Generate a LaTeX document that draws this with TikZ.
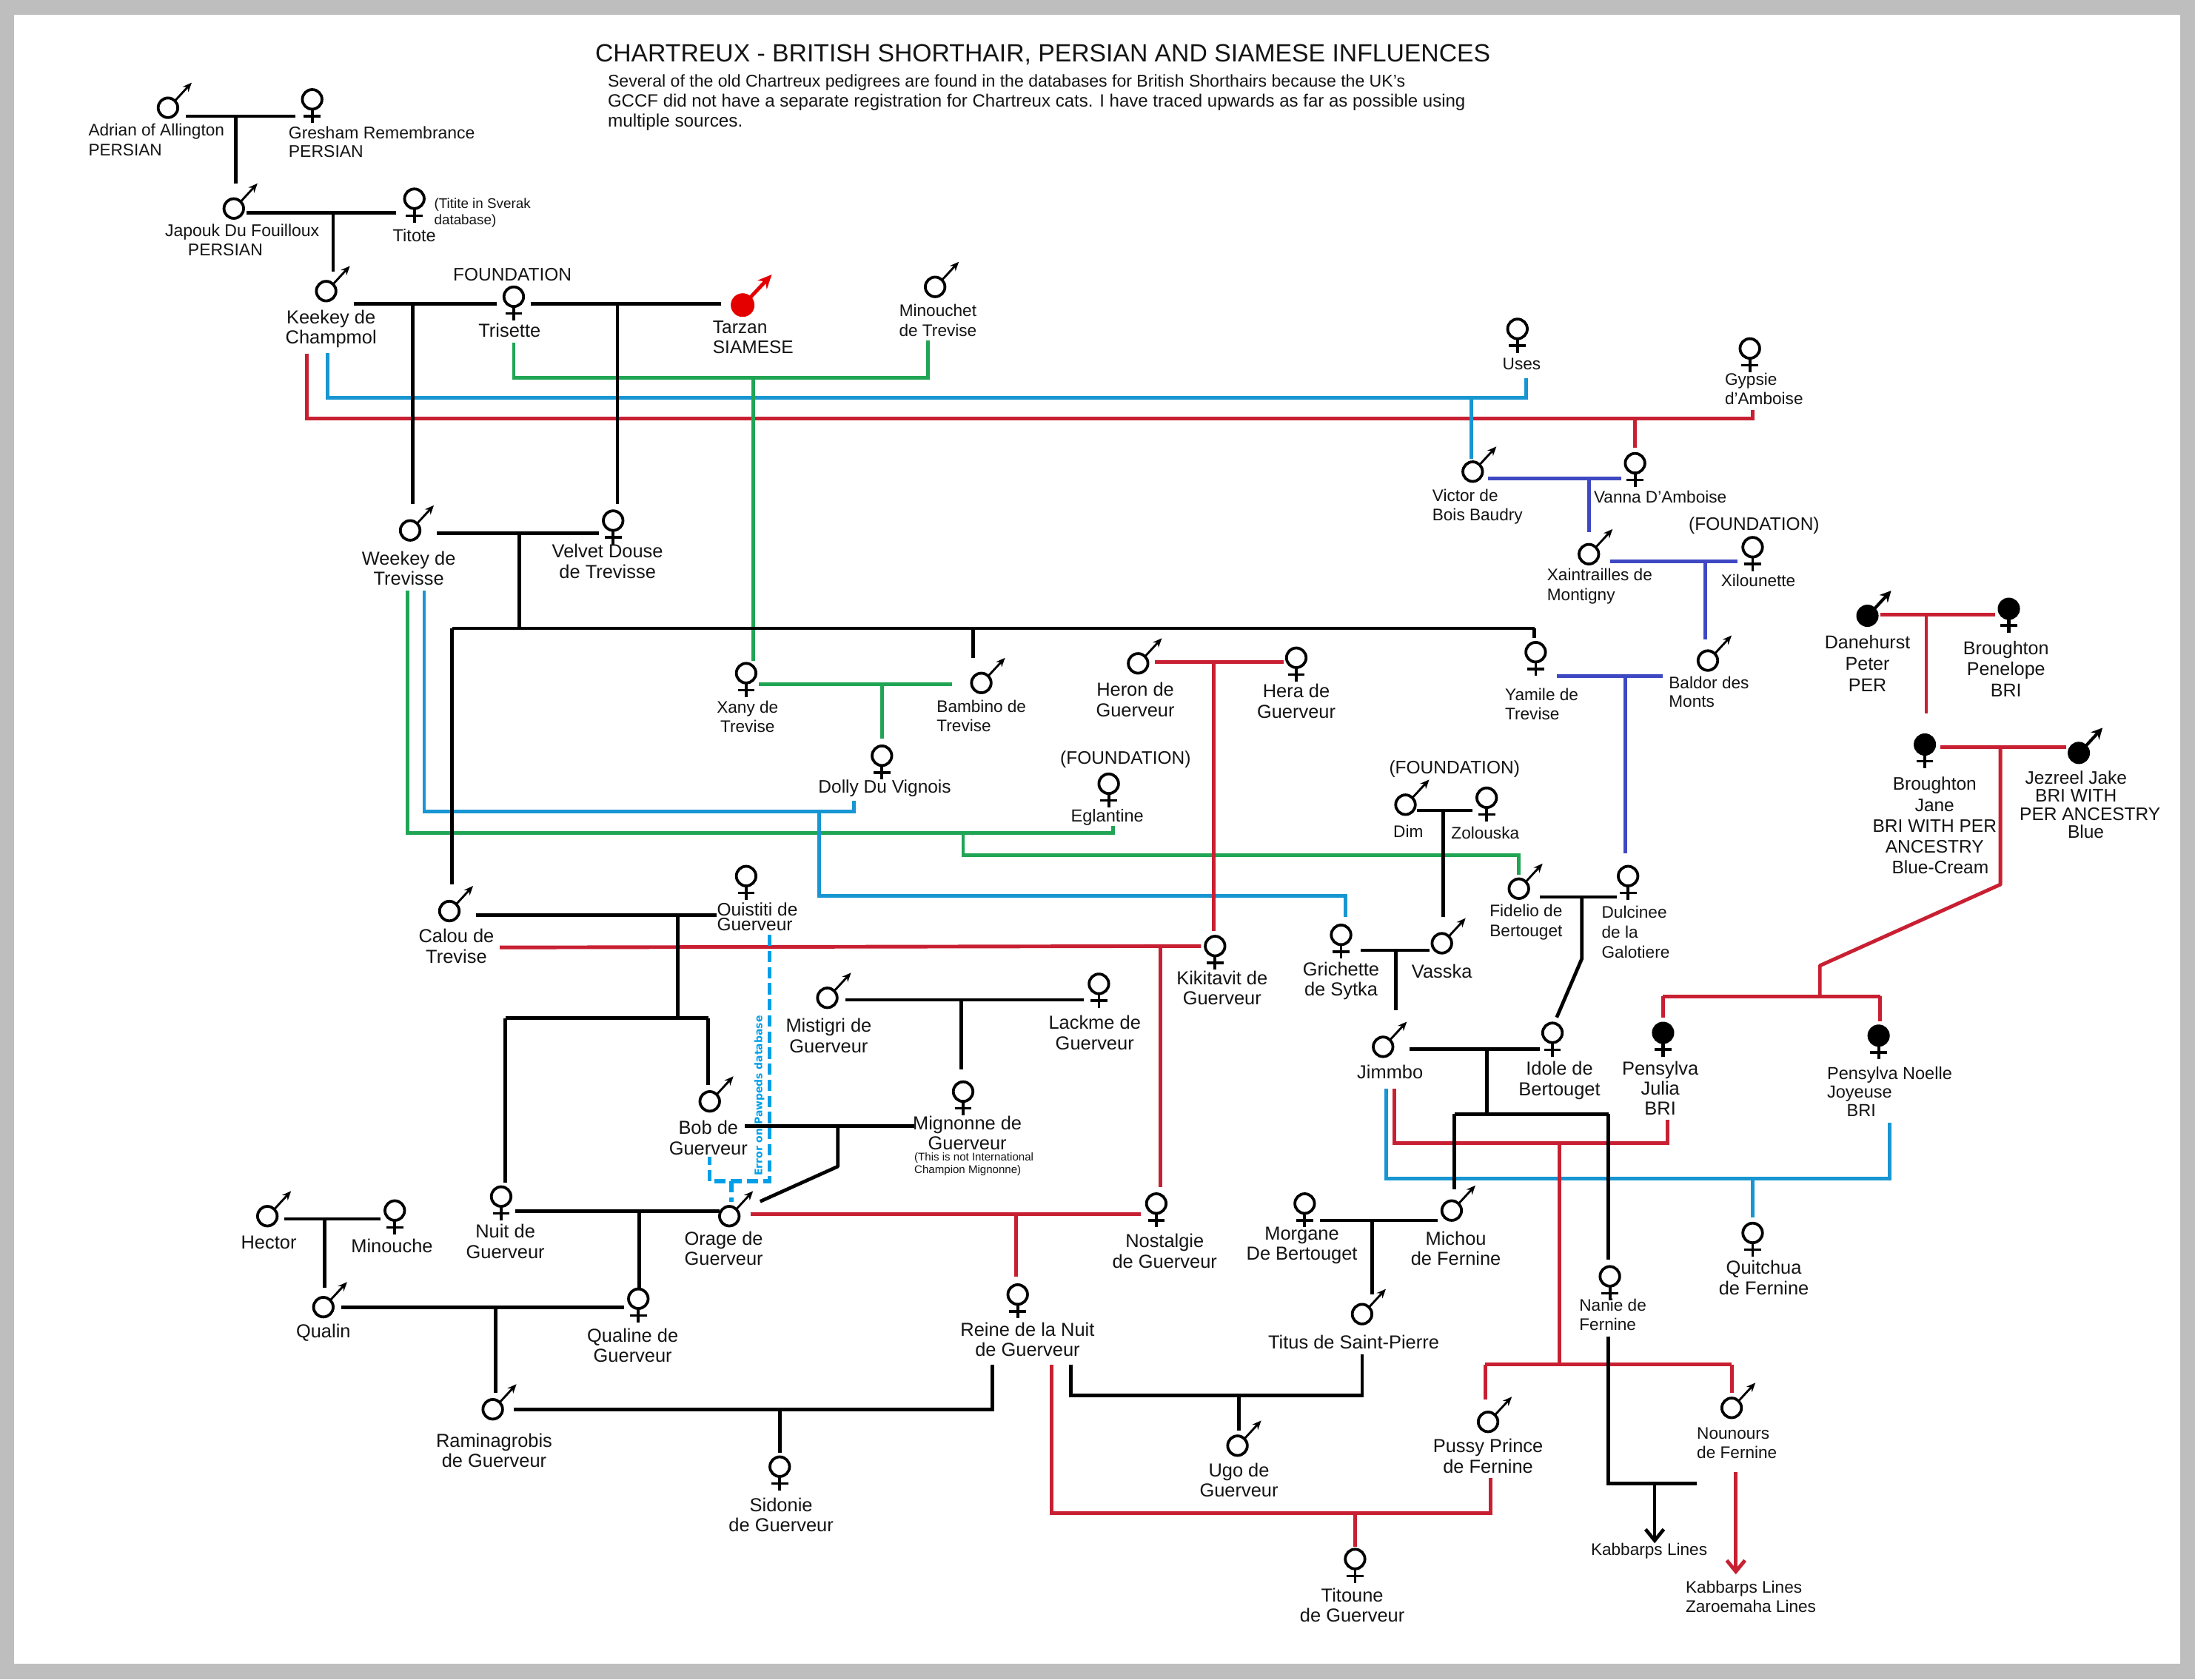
\documentclass[tikz,border=0pt]{standalone}
\usepackage{fontspec}
\setmainfont{Liberation Sans}
\newfontfamily\errfont{DejaVu Sans}
\usetikzlibrary{arrows.meta,calc}
\definecolor{cred}{RGB}{200,32,50}
\definecolor{cblue}{RGB}{24,150,210}
\definecolor{cgreen}{RGB}{32,165,85}
\definecolor{cpurple}{RGB}{62,72,195}
\definecolor{cdash}{RGB}{0,160,232}
\definecolor{cframe}{RGB}{190,190,190}
\tikzset{
 blk/.style={draw=black,line width=2.5bp},
 rd/.style={draw=cred,line width=2.6bp},
 bl/.style={draw=cblue,line width=2.6bp},
 gr/.style={draw=cgreen,line width=2.6bp},
 pu/.style={draw=cpurple,line width=2.6bp},
 dsh/.style={draw=cdash,line width=2.7bp,dash pattern=on 8bp off 3.5bp},
 msym/.style={circle,draw=black,line width=2bp,fill=white,minimum size=14bp,inner sep=0pt,outer sep=0pt},
 fsym/.style={msym},
 fil/.style={circle,draw=black,line width=1.9bp,fill=black,minimum size=14bp,inner sep=0pt,outer sep=0pt},
 arr/.style={draw=black,line width=1.5bp,-{Stealth[length=6.5bp,width=5.5bp]}},
 lc/.style={font=\fontsize{13.5}{14.5}\selectfont,align=center,inner sep=0pt,text=black!92},
 ll/.style={font=\fontsize{13}{14}\selectfont,align=left,anchor=west,inner sep=0pt,text=black!92},
}
\newcommand\symM[3]{\node[msym](#1) at (#2,#3) {};\draw[arr] (#1.45) -- ++(12,-13);}
\newcommand\symF[3]{\node[fsym](#1) at (#2,#3) {};\draw[line width=2bp] (#1.south) -- ++(0,10);\draw[line width=1.8bp] ($(#1.south)+(-6,5)$) -- ++(12,0);}
\newcommand\symMf[3]{\node[fil](#1) at (#2,#3) {};\draw[draw=black,line width=2.2bp,-{Stealth[length=8bp,width=8bp]}] (#1.45) -- ++(12,-13);}
\newcommand\symFf[3]{\node[fil](#1) at (#2,#3) {};\draw[line width=2.2bp] (#1.south) -- ++(0,10);\draw[line width=1.9bp] ($(#1.south)+(-6,5)$) -- ++(12,0);}
\newcommand\labC[4]{\node[lc](#1) at (#2,#3) {#4};}
\newcommand\labL[4]{\node[ll](#1) at (#2,#3) {#4};}
\newcommand\mate[6]{\draw[#1] ($(#3.east |- #2)+(#5,0)$) -- ($(#4.west |- #2)+(-#6,0)$);}
\newcommand\kid[4]{\draw[#1] (#2) -- ($(#3.north -| #2)+(0,-#4)$);}
\newcommand\jn[3]{\coordinate (#1) at (#2,#3);}
\begin{document}
\begin{tikzpicture}[x=1bp,y=-1bp]
\fill[cframe] (0,0) rectangle (1568,1200);
\fill[white] (10,10.5) rectangle (1557.5,1189);
\useasboundingbox (0,0) rectangle (1568,1200);
% symbols
\symM{adrian}{120}{77}\symF{gresham}{223}{71}
\symM{japouk}{167}{149}\symF{titote}{296}{142}
\symM{keekey}{233}{208}\symF{trisette}{367}{212}
\symM{minouchet}{668}{205}
\symF{uses}{1084}{235}\symF{gypsie}{1250}{249}
\symM{victor}{1052}{337}\symF{vanna}{1168}{331}
\symM{xaintrailles}{1135}{396}\symF{xilounette}{1252}{391}
\symM{baldor}{1220}{472}
\symMf{danehurst}{1334}{440}\symFf{penelope}{1435}{435}
\symFf{jane}{1375}{532}\symMf{jezreel}{1485}{538}
\symM{weekey}{293}{379}\symF{velvet}{438}{372}
\symF{xany}{533}{481}\symM{bambino}{701}{488}
\symM{heron}{813}{474}\symF{hera}{926}{470}
\symF{yamile}{1097}{466}
\symF{dolly}{630}{540}\symF{eglantine}{792}{560}
\symM{dim}{1004}{575}\symF{zolouska}{1062}{570}
\symM{fidelio}{1085}{635}\symF{dulcinee}{1163}{626}
\symM{calou}{321}{651}\symF{quistiti}{533}{626}
\symM{vasska}{1030}{674}\symF{grichette}{958}{668}
\symF{kikitavit}{868}{676}
\symM{mistigri}{591}{713}\symF{lackme}{785}{703}
\symM{bob}{507}{787}\symF{mignonne}{688}{780}
\symM{jimmbo}{988}{748}\symF{idole}{1109}{738}
\symFf{julia}{1188}{738}\symFf{noelle}{1342}{740}
\symF{nuit}{358}{855}\symM{orage}{521}{869}
\symF{nostalgie}{826}{860}
\symM{hector}{191}{869}\symF{minouche}{282}{865}
\symF{morgane}{932}{860}\symM{michou}{1037}{865}
\symF{quitchua}{1252}{881}\symF{nanie}{1150}{912}
\symM{qualin}{231}{934}\symF{qualine}{456}{928}
\symF{reine}{727}{925}\symM{titus}{973}{939}
\symM{raminagrobis}{352}{1007}\symF{sidonie}{557}{1048}
\symM{ugo}{884}{1033}\symM{pussy}{1063}{1016}\symM{nounours}{1237}{1006}
\symF{titoune}{968}{1114}
\node[circle,fill=red!90!black,draw=red!90!black,minimum size=16.5bp,inner sep=0pt,outer sep=0pt](tarzan) at (530.5,218) {};
\draw[draw=red!90!black,line width=2.6bp,-{Stealth[length=10bp,width=9bp]}] (tarzan.45) -- ++(15,-16);
% texts
\node[lc,font=\fontsize{17.9}{20}\selectfont,anchor=west](title) at (425,39) {CHARTREUX - BRITISH SHORTHAIR, PERSIAN AND SIAMESE INFLUENCES};
\node[ll,font=\fontsize{12.6}{14.4}\selectfont](intro) at (434,73.5) {{\fontsize{12.25}{14.4}\selectfont Several of the old Chartreux pedigrees are found in the databases for British Shorthairs because the UK's}\\{\fontsize{12.75}{14.4}\selectfont GCCF did not have a separate registration for Chartreux cats. I have traced upwards as far as possible using}\\{\fontsize{12.9}{14.4}\selectfont multiple sources.}};
\node[ll,font=\fontsize{12}{14}\selectfont](ladrian) at (63,100) {Adrian of Allington\\PERSIAN};
\node[ll,font=\fontsize{12.2}{13.5}\selectfont](lgresham) at (206,101.5) {Gresham Remembrance\\PERSIAN};
\node[lc,font=\fontsize{12.2}{14}\selectfont](ljapouk) at (173,171.5) {Japouk Du Fouilloux\\PERSIAN\hspace*{24bp}};
\node[ll,font=\fontsize{10}{12}\selectfont](ltitite) at (310,152) {(Titite in Sverak\\database)};
\node[lc,font=\fontsize{12.5}{14}\selectfont](ltitote) at (296,168) {Titote};
\node[lc,font=\fontsize{13}{14}\selectfont](lfound) at (366,196) {FOUNDATION};
\labC{lkeekey}{236.5}{235}{Keekey de\\Champmol}
\labC{ltrisette}{364}{236}{Trisette}
\labL{ltarzan}{509}{241}{Tarzan\\SIAMESE}
\node[lc,font=\fontsize{12}{14}\selectfont](lminouchet) at (670,229) {Minouchet\\de Trevise};
\node[lc,font=\fontsize{12}{14}\selectfont](luses) at (1087,260) {Uses};
\node[ll,font=\fontsize{12}{14}\selectfont](lgypsie) at (1232,278) {Gypsie\\d'Amboise};
\node[ll,font=\fontsize{12}{14}\selectfont](lvictor) at (1023,362) {Victor de\\Bois Baudry};
\node[lc,font=\fontsize{12}{14}\selectfont](lvanna) at (1186,355) {Vanna D'Amboise};
\node[lc,font=\fontsize{13}{14}\selectfont](lfoundb) at (1253,375.5) {(FOUNDATION)};
\node[ll,font=\fontsize{12}{14}\selectfont](lxain) at (1105,419) {Xaintrailles de\\Montigny};
\node[lc,font=\fontsize{12}{14}\selectfont](lxil) at (1256,415) {Xilounette};
\node[ll,font=\fontsize{12}{13.5}\selectfont](lbaldor) at (1192,494.5) {Baldor des\\Monts};
\node[lc,font=\fontsize{13.3}{15.3}\selectfont](ldane) at (1334,474) {Danehurst\\Peter\\PER};
\node[lc,font=\fontsize{13.3}{15}\selectfont](lpen) at (1433,478) {Broughton\\Penelope\\BRI};
\node[lc,font=\fontsize{13}{15}\selectfont](ljane) at (1382,590) {Broughton\\Jane\\BRI WITH PER\\ANCESTRY\\\hspace*{8bp}Blue-Cream};
\node[lc,font=\fontsize{13}{13}\selectfont](ljez) at (1490,575) {\hspace*{-14bp}Jezreel Jake\\\hspace*{-14bp}BRI WITH\\\hspace*{6bp}PER ANCESTRY\\Blue};
\labC{lweekey}{292}{406}{Weekey de\\Trevisse}
\labC{lvelvet}{434}{401}{Velvet Douse\\de Trevisse}
\node[lc,font=\fontsize{12}{14}\selectfont](lxany) at (534,512) {Xany de\\Trevise};
\node[ll,font=\fontsize{12}{13.5}\selectfont](lbamb) at (669,511.5) {Bambino de\\Trevise};
\labC{lheron}{811}{500}{Heron de\\Guerveur}
\labC{lhera}{926}{501}{Hera de\\Guerveur}
\node[ll,font=\fontsize{12}{14}\selectfont](lyam) at (1075,503) {Yamile de\\Trevise};
\node[lc,font=\fontsize{13}{14}\selectfont](ldolly) at (632,563.5) {Dolly Du Vignois};
\node[lc,font=\fontsize{13}{14}\selectfont](lfoundc) at (804,542.5) {(FOUNDATION)};
\node[lc,font=\fontsize{12.5}{14}\selectfont](legl) at (791,584) {Eglantine};
\node[lc,font=\fontsize{13}{14}\selectfont](lfoundd) at (1039,549.5) {(FOUNDATION)};
\node[lc,font=\fontsize{12}{14}\selectfont](ldim) at (1006,594) {Dim};
\node[lc,font=\fontsize{12}{14}\selectfont](lzol) at (1061,595) {Zolouska};
\node[ll,font=\fontsize{12}{14}\selectfont](lfid) at (1064,659) {Fidelio de\\Bertouget};
\node[ll,font=\fontsize{12}{14.5}\selectfont](ldul) at (1144,666) {Dulcinee\\de la\\Galotiere};
\node[ll,font=\fontsize{13}{10.5}\selectfont](lqui) at (512,655) {Ouistiti de\\Guerveur};
\labC{lcalou}{326}{676}{Calou de\\Trevise}
\labC{lkiki}{873}{706}{Kikitavit de\\Guerveur}
\labC{lgri}{958}{701}{Grichette\\de Sytka}
\labC{lvas}{1030}{694}{Vasska}
\labC{lmis}{592}{740}{Mistigri de\\Guerveur}
\labC{llac}{782}{738}{Lackme de\\Guerveur}
\labC{ljim}{993}{766}{Jimmbo}
\labC{lido}{1114}{772}{Idole de\\Bertouget}
\labC{ljul}{1186}{777.5}{Pensylva\\Julia\\BRI}
\node[ll,font=\fontsize{12.5}{13.5}\selectfont](lnoe) at (1305,780) {Pensylva Noelle\\Joyeuse\\\hspace*{14bp}BRI};
\labC{lbob}{506}{813}{Bob de\\Guerveur}
\labC{lmig}{691}{809.5}{Mignonne de\\Guerveur}
\node[ll,font=\fontsize{8}{9}\selectfont](lnot) at (653,832) {(This is not International\\Champion Mignonne)};
\labC{lnuit}{361}{887}{Nuit de\\Guerveur}
\labC{lora}{517}{892}{Orage de\\Guerveur}
\labC{lhec}{192}{888}{Hector}
\labC{lmin}{280}{890}{Minouche}
\labC{lnos}{832}{894}{Nostalgie\\de Guerveur}
\labC{lmor}{930}{890}{Morgane\\De Bertouget}
\labC{lmic}{1040}{892}{Michou\\de Fernine}
\labC{lqui2}{1260}{913}{Quitchua\\de Fernine}
\labC{lqua}{231}{952.5}{Qualin}
\labC{lqual}{452}{961.5}{Qualine de\\Guerveur}
\labC{lrei}{734}{957}{Reine de la Nuit\\de Guerveur}
\labC{ltit}{967}{959}{Titus de Saint-Pierre}
\node[ll,font=\fontsize{12}{13.5}\selectfont](lnan) at (1128,939.5) {Nanie de\\Fernine};
\labC{lram}{353}{1036.5}{Raminagrobis\\de Guerveur}
\labC{lsid}{558}{1082.5}{Sidonie\\de Guerveur}
\labC{lugo}{885}{1057.5}{Ugo de\\Guerveur}
\labC{lpus}{1063}{1040.5}{Pussy Prince\\de Fernine}
\node[ll,font=\fontsize{12}{14}\selectfont](lnou) at (1212,1031) {Nounours\\de Fernine};
\labC{ltito}{966}{1147}{Titoune\\de Guerveur}
\node[lc,font=\fontsize{12}{14}\selectfont](lkab) at (1178,1108.5) {Kabbarps Lines};
\node[ll,font=\fontsize{12}{14}\selectfont](lkab2) at (1204,1141) {Kabbarps Lines\\Zaroemaha Lines};
% junctions
\jn{Ja}{168.5}{83}\jn{Jb}{238}{152}\jn{Jc}{295}{217}\jn{Jd}{441}{217}
\jn{Je}{371}{381}\jn{Jf}{371}{449}\jn{Jg}{323}{449}\jn{Jh}{1096}{449}\jn{Ji}{695}{449}
\jn{Jk}{484}{654}\jn{Jl}{484}{727.5}\jn{Jm}{361}{727.5}\jn{Jn}{506}{727.5}
\jn{Jo}{598.5}{804.5}\jn{Jp}{598.5}{833.5}\jn{Jq}{686.5}{714.5}\jn{Jr}{456.7}{865.5}
\jn{Js}{232}{871}\jn{Jt}{354}{934}\jn{Ju}{557}{1007}\jn{Jw}{709}{1007}\jn{Jv}{709}{975}
\jn{Jx}{765}{975}\jn{Jz}{973}{997}\jn{Ka}{973}{968}\jn{Kb}{885}{997}
\jn{Kc}{980}{872}\jn{Kd}{1062}{749.5}\jn{Ke}{1062}{796}\jn{Kf}{1039}{796}\jn{Kg}{1149}{796}
\jn{Kh}{1149}{955}\jn{Ki}{1149}{1060}\jn{Kj}{1212}{1060}\jn{Kk}{1182}{1060}
\jn{Km}{1031}{579}\jn{Kn}{997}{679}\jn{Ko}{1130}{641}\jn{Kp}{1130}{685}
\jn{Kq}{219}{253}\jn{Ks}{1252}{299}\jn{Kt}{1252}{293}\jn{Ku}{1168}{299}
\jn{Kv}{234}{252}\jn{Kx}{1090}{284}\jn{Ky}{1090}{270}\jn{Kw}{1051}{284}
\jn{La}{367}{245}\jn{Lb}{663}{270}\jn{Lc}{663}{243}\jn{Lw}{538}{270}
\jn{Lv}{1135}{342}\jn{Lx}{1218}{401}\jn{Ly}{1161}{483}\jn{Lz}{630}{489}
\jn{Ma}{867}{473}\jn{Pa}{291}{422}\jn{Pb}{795}{595}\jn{Pc}{795}{590}
\jn{Qa}{303}{422}\jn{Qb}{610}{580}\jn{Qc}{610}{572}\jn{Mb}{585}{580}\jn{Qd}{961}{640}\jn{Qe}{961}{655}
\jn{Mc}{688}{595}\jn{Rb}{1085}{611}\jn{Rc}{1085}{625}
\jn{Md}{357}{677}\jn{Me}{829}{677}\jn{Mf}{725.7}{867.5}\jn{Mg}{1376}{439}\jn{Mh}{1429}{534}
\jn{Mi}{1429}{632}\jn{Mj}{1300}{690}\jn{Mk}{1300}{712}\jn{Ml}{1188}{712}\jn{Mm}{1343}{712}
\jn{Mn}{990}{778}\jn{Mo}{1350}{842}\jn{Mp}{1350}{802}\jn{Mq}{1252}{842}
\jn{Mr}{996}{778}\jn{Ms}{1191}{817}\jn{Mt}{1191}{800}\jn{Mu}{1114}{817}\jn{Mv}{1114}{975}
\jn{Mw}{1061}{975}\jn{Mx}{1237}{975}
\jn{My}{751}{975}\jn{Mz}{1065}{1081}\jn{Na}{1065}{1056}\jn{Nb}{968}{1081}
\jn{Nc}{1240}{1052}\jn{Nd}{1240}{1125}
\jn{Ne}{549.5}{668}\jn{Nf}{549.5}{844}\jn{Ng}{507}{844}\jn{Nh}{507}{826.5}\jn{Ni}{522.5}{844}
% coloured lines
\draw[rd] (Kq) |- (Ks) -- (Kt);\kid{rd}{Ku}{vanna}{4}
\draw[bl] (Kv) |- (Kx) -- (Ky);\kid{bl}{Kw}{victor}{2}
\draw[gr] (La) |- (Lb) -- (Lc);\kid{gr}{Lw}{xany}{2}
\mate{pu}{Lv}{victor}{vanna}{4}{3}\kid{pu}{Lv}{xaintrailles}{9}
\mate{pu}{Lx}{xaintrailles}{xilounette}{8}{4}\kid{pu}{Lx}{baldor}{8}
\mate{pu}{Ly}{yamile}{baldor}{8}{25}\kid{pu}{Ly}{dulcinee}{9}
\mate{gr}{Lz}{xany}{bambino}{2}{14}\kid{gr}{Lz}{dolly}{5}
\draw[gr] (Pa) |- (Pb) -- (Pc);
\draw[bl] (Qa) |- (Qb) -- (Qc);
\draw[bl] (Mb) |- (Qd) -- (Qe);
\draw[gr] (Mc) |- (Rb) -- (Rc);
\mate{rd}{Ma}{heron}{hera}{5}{2}\kid{rd}{Ma}{kikitavit}{4}
\draw[rd] (Md) -- ($(kikitavit.west)+(-3,0)$);\kid{rd}{Me}{nostalgie}{5}
\mate{rd}{Mf}{orage}{nostalgie}{8}{4}\kid{rd}{Mf}{reine}{6}
\mate{rd}{Mg}{danehurst}{penelope}{2}{3}\kid{rd}{Mg}{jane}{15}
\mate{rd}{Mh}{jane}{jezreel}{4}{2}
\draw[rd,line join=round] (Mh) -- (Mi) -- (Mj) -- (Mk);
\draw[rd] (Ml) -- (Mm);\kid{rd}{Ml}{julia}{4}\kid{rd}{Mm}{noelle}{3}
\draw[bl] (Mn) |- (Mo) -- (Mp);\kid{bl}{Mq}{quitchua}{4}
\draw[rd] (Mr) |- (Ms) -- (Mt);\draw[rd] (Mu) -- (Mv);
\draw[rd] (Mw) -- (Mx);\kid{rd}{Mw}{pussy}{9}\kid{rd}{Mx}{nounours}{4}
\draw[rd] (My) |- (Mz) -- (Na);\kid{rd}{Nb}{titoune}{2}
\draw[rd,-{Straight Barb[length=8bp,width=13bp]}] (Nc) -- (Nd);
% black lines
\mate{blk}{Ja}{adrian}{gresham}{6}{5}\kid{blk}{Ja}{japouk}{11}
\mate{blk}{Jb}{japouk}{titote}{2}{6}\kid{blk}{Jb}{keekey}{7}
\mate{blk}{Jc}{keekey}{trisette}{13}{5}\kid{blk}{Jc}{weekey}{12}
\mate{blk}{Jd}{trisette}{tarzan}{5}{7}\kid{blk}{Jd}{velvet}{5}
\mate{blk}{Je}{weekey}{velvet}{12}{3}\draw[blk] (Je) -- (Jf);
\draw[blk] (Jg) -- (Jh);\kid{blk}{Jh}{yamile}{3}\kid{blk}{Jg}{calou}{12}\kid{blk}{Ji}{bambino}{11}
\mate{blk}{Jk}{calou}{quistiti}{12}{14}\draw[blk] (Jk) -- (Jl);
\draw[blk] (Jm) -- (Jn);\kid{blk}{Jm}{nuit}{3}\kid{blk}{Jn}{bob}{5}
\mate{blk}{Jo}{bob}{mignonne}{18}{28}
\draw[blk,line join=round] (Jo) -- (Jp) -- ($(orage.center)+(22,-10.5)$);
\mate{blk}{Jq}{mistigri}{lackme}{6}{4}\kid{blk}{Jq}{mignonne}{9}
\mate{blk}{Jr}{nuit}{orage}{3}{0}\kid{blk}{Jr}{qualine}{1}
\mate{blk}{Js}{hector}{minouche}{5}{3}\kid{blk}{Js}{qualin}{7}
\mate{blk}{Jt}{qualin}{qualine}{6}{3}\kid{blk}{Jt}{raminagrobis}{5}
\draw[blk] ($(raminagrobis.east |- Ju)+(8,0)$) -- (Jw) -- (Jv);\kid{blk}{Ju}{sidonie}{3}
\draw[blk] (Jx) |- (Jz) -- (Ka);\kid{blk}{Kb}{ugo}{4}
\mate{blk}{Kc}{morgane}{michou}{4}{3}\kid{blk}{Kc}{titus}{7}
\mate{blk}{Kd}{jimmbo}{idole}{12}{2}\draw[blk] (Kd) -- (Ke);
\draw[blk] (Kf) -- (Kg);\kid{blk}{Kf}{michou}{8}\kid{blk}{Kg}{nanie}{5}
\draw[blk] (Kh) |- (Kj);
\draw[blk,-{Straight Barb[length=8bp,width=13bp]}] (Kk) -- (Kk |- lkab.north);
\mate{blk}{Km}{dim}{zolouska}{1}{3}\kid{blk}{Km}{vasska}{12}
\mate{blk}{Kn}{grichette}{vasska}{7}{2}\kid{blk}{Kn}{jimmbo}{19}
\mate{blk}{Ko}{fidelio}{dulcinee}{8}{1}
\draw[blk,line join=round] (Ko) -- (Kp) -- ($(idole.center)+(3,-11)$);
% dashed error lines
\draw[dsh] (Ne) -- (Nf) -- (Ng) -- (Nh);
\kid{dsh}{Ni}{orage}{3}
\node[rotate=90,inner sep=0pt,text=cdash,font=\errfont\bfseries\fontsize{7.4}{9}\selectfont](lerr) at (542.5,783) {Error on Pawpeds database};
\end{tikzpicture}
\end{document}
